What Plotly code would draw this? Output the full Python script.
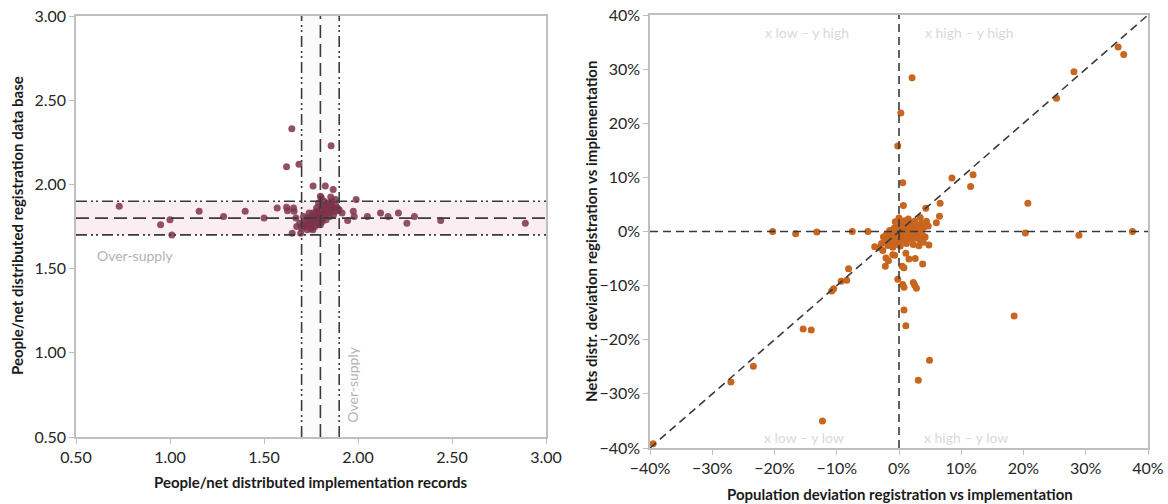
import plotly.graph_objects as go

# ---- Left panel: people per net, implementation records vs registration data base
impl_ratio = [
    0.73, 0.95, 1.00, 1.01, 1.155, 1.285, 1.40, 1.50, 1.57, 1.62, 1.625,
    1.648, 1.62, 1.686, 1.857, 1.761, 1.826, 1.868, 1.80, 1.805, 1.855, 1.88,
    1.99, 1.915, 1.945, 1.975, 1.98, 2.05, 2.12, 2.16, 2.215, 2.26, 2.30, 2.44, 2.89,
    1.65, 1.695, 1.674, 1.657, 1.66, 1.67,
    1.70, 1.71, 1.72, 1.72, 1.73, 1.73, 1.74, 1.74, 1.75, 1.75, 1.76, 1.76, 1.76,
    1.77, 1.77, 1.78, 1.78, 1.78, 1.79, 1.79, 1.80, 1.80, 1.80, 1.81, 1.81, 1.82,
    1.82, 1.82, 1.83, 1.83, 1.84, 1.84, 1.85, 1.85, 1.86, 1.86, 1.87, 1.88, 1.88,
    1.89, 1.75, 1.77, 1.79, 1.81, 1.83, 1.85, 1.87, 1.69, 1.71, 1.74, 1.78, 1.81,
    1.84, 1.80, 1.76, 1.73, 1.90, 1.86, 1.82, 1.79,
]
reg_ratio = [
    1.87, 1.76, 1.79, 1.70, 1.84, 1.81, 1.84, 1.80, 1.86, 1.865, 1.843,
    2.33, 2.105, 2.12, 2.23, 1.99, 1.99, 1.97, 1.93, 1.92, 1.925, 1.91,
    1.91, 1.83, 1.785, 1.84, 1.81, 1.81, 1.83, 1.81, 1.83, 1.77, 1.81, 1.785, 1.77,
    1.71, 1.71, 1.75, 1.86, 1.84, 1.80,
    1.74, 1.76, 1.75, 1.78, 1.77, 1.80, 1.76, 1.79, 1.78, 1.81, 1.77, 1.80, 1.83,
    1.79, 1.82, 1.78, 1.80, 1.84, 1.81, 1.83, 1.79, 1.82, 1.85, 1.80, 1.83, 1.81,
    1.84, 1.87, 1.82, 1.85, 1.83, 1.86, 1.84, 1.88, 1.85, 1.87, 1.86, 1.84, 1.88,
    1.86, 1.74, 1.75, 1.76, 1.78, 1.79, 1.81, 1.82, 1.77, 1.81, 1.83, 1.86, 1.88,
    1.89, 1.76, 1.73, 1.73, 1.85, 1.90, 1.90, 1.89,
]
target_ratio = 1.8
band_low, band_high = 1.7, 1.9

# ---- Right panel: deviations (%) registration vs implementation
pop_dev = [
    35.2, 36.1, 28.1, 25.3, 2.1, 0.3, -0.2, 0.6, 8.5, 11.9, 11.5, 20.7, 6.6, 6.5,
    6.0, 4.3, 0.7, 20.3, 28.9, 37.5, -20.3, -16.6, -13.2, -7.5, -5.0, 3.4, 4.7,
    -8.1, -8.4, -9.3, -10.5, -10.8, -15.4, -14.1, -23.4, -27.0, -12.3, -39.5,
    0.8, 1.1, 18.5, 4.9, 3.1, -0.2, 0.6, 0.8, 2.3, 2.5, 2.8, 0.5, 0.8, 1.6, 2.6,
    3.8, -2.1, -1.7, -2.2, 1.1, -1.0, -0.7, -3.9, 3.2, 4.8,
    -2.8, -2.5, -2.2, -2.0, -1.8, -1.6, -1.5, -1.3, -1.2, -1.0, -0.9, -0.8, -0.6,
    -0.5, -0.4, -0.3, -0.2, -0.1, 0.0, 0.1, 0.2, 0.3, 0.4, 0.5, 0.6, 0.7, 0.8,
    0.9, 1.0, 1.1, 1.2, 1.3, 1.4, 1.5, 1.6, 1.7, 1.8, 1.9, 2.0, 2.1, 2.2, 2.4,
    2.5, 2.6, 2.7, 2.8, 3.0, 3.1, 3.3, 3.5, 3.6, 3.8, 4.0, 4.2, 4.4, -3.2, -2.6,
    -1.0, 0.2, 1.2, 2.3, 3.9, -0.6, 0.0,
]
nets_dev = [
    34.1, 32.7, 29.5, 24.6, 28.4, 21.9, 15.8, 9.0, 9.9, 10.5, 8.3, 5.2, 5.2, 2.8,
    1.6, 4.3, 4.8, -0.3, -0.7, 0.0, 0.0, -0.4, -0.1, 0.0, 0.0, 2.6, 1.0,
    -6.9, -9.0, -9.2, -10.6, -11.0, -18.0, -18.2, -24.9, -27.8, -35.0, -39.2,
    -14.5, -17.4, -15.6, -23.8, -27.5, -8.8, -9.8, -10.3, -9.4, -9.9, -10.5, -6.4,
    -6.7, -5.1, -5.0, -6.0, -4.9, -5.4, -6.4, -4.0, -4.3, -4.4, -2.8, -2.65, -2.5,
    -2.2, -1.0, -1.8, -0.5, -2.6, -1.2, 0.2, -0.8, -2.0, -0.3, -1.5, 0.6, -0.9,
    -2.4, 0.3, -0.4, -1.3, 1.0, -0.2, -0.8, 0.4, -1.6, 1.5, 0.0, -0.5, 0.8, -1.1,
    2.0, 0.3, -0.3, 1.2, -0.8, 0.6, 2.3, -0.1, 1.0, -1.4, 0.2, 1.6, -0.6, 0.7,
    -0.2, 1.9, -1.2, 0.5, 1.2, -0.4, 0.9, -1.5, 0.3, 1.5, -0.7, 0.8, -1.0, 1.9,
    -3.0, -3.5, -2.9, -2.7, -2.2, -2.4, -2.0, 1.8, 2.5,
]
quadrant_labels = ["x low – y high", "x high – y high", "x low – y low", "x high – y low"]
quadrant_x = [-14.8, 11.2, -15.2, 10.8]
quadrant_y = [36.8, 36.8, -38.0, -38.0]

W, H = 1168, 504
FONT = "Lato, 'Open Sans', sans-serif"
AXIS_GREY = "#bfbfbf"
LINE_DARK = "#3a3a3a"


def px(x):
    return x / W


def py(y):
    return 1 - y / H


fig = go.Figure()

fig.add_trace(go.Scatter(
    x=impl_ratio, y=reg_ratio, mode="markers", xaxis="x", yaxis="y",
    marker=dict(size=7, color="#7e3249", opacity=0.85, line=dict(width=0)),
    showlegend=False, hoverinfo="x+y",
))
fig.add_trace(go.Scatter(
    x=pop_dev, y=nets_dev, mode="markers", xaxis="x2", yaxis="y2",
    marker=dict(size=7, color="#c8651e", line=dict(width=0)),
    showlegend=False, hoverinfo="x+y",
))

axis_common = dict(
    showgrid=False, zeroline=False, showline=True, linecolor=AXIS_GREY,
    linewidth=1.5, mirror=True, ticks="outside", ticklen=5, tickcolor=AXIS_GREY,
    tickwidth=1.2, tickfont=dict(family=FONT, size=16, color="#262626"),
    automargin=False,
)

fig.update_layout(
    width=W, height=H,
    margin=dict(l=0, r=0, t=0, b=0),
    paper_bgcolor="white", plot_bgcolor="white",
    font=dict(family=FONT),
    xaxis=dict(domain=[px(76), px(546)], range=[0.5, 3.0], dtick=0.5,
               tick0=0.5, tickformat=".2f", anchor="y", **axis_common),
    yaxis=dict(domain=[py(437), py(16)], range=[0.5, 3.0], dtick=0.5,
               tick0=0.5, tickformat=".2f", anchor="x", **axis_common),
    xaxis2=dict(domain=[px(650), px(1148)], range=[-40, 40], dtick=10,
                tick0=0, ticksuffix="%", anchor="y2", **axis_common),
    yaxis2=dict(domain=[py(448), py(15)], range=[-40, 40], dtick=10,
                tick0=0, ticksuffix="%", anchor="x2", **axis_common),
)

# Tolerance bands around the target ratio
fig.add_shape(type="rect", xref="x", yref="y", x0=0.5, x1=3.0,
              y0=band_low, y1=band_high, fillcolor="rgba(242,200,214,0.30)",
              line=dict(width=0), layer="below")
fig.add_shape(type="rect", xref="x", yref="y", x0=band_low, x1=band_high,
              y0=0.5, y1=3.0, fillcolor="rgba(230,220,224,0.10)",
              line=dict(width=0), layer="below")

dash_dot_dot = "11px,4px,2px,3px,2px,4px"
for v in (band_low, band_high):
    fig.add_shape(type="line", xref="x", yref="y", x0=0.5, x1=3.0, y0=v, y1=v,
                  line=dict(color=LINE_DARK, width=1.6, dash=dash_dot_dot))
    fig.add_shape(type="line", xref="x", yref="y", x0=v, x1=v, y0=0.5, y1=3.0,
                  line=dict(color=LINE_DARK, width=1.6, dash=dash_dot_dot))
fig.add_shape(type="line", xref="x", yref="y", x0=0.5, x1=3.0,
              y0=target_ratio, y1=target_ratio,
              line=dict(color=LINE_DARK, width=1.6, dash="13px,6px"))
fig.add_shape(type="line", xref="x", yref="y", x0=target_ratio, x1=target_ratio,
              y0=0.5, y1=3.0,
              line=dict(color=LINE_DARK, width=1.6, dash="13px,6px"))

# Reference lines on the deviation panel
for x0, y0, x1, y1 in ((-40, 0, 40, 0), (0, -40, 0, 40), (-40, -40, 40, 40)):
    fig.add_shape(type="line", xref="x2", yref="y2", x0=x0, y0=y0, x1=x1, y1=y1,
                  line=dict(color=LINE_DARK, width=1.6, dash="8px,5px"))

annotations = [
    dict(text="Over-supply", xref="x", yref="y", x=0.6, y=1.575,
         xanchor="left", yanchor="middle", showarrow=False,
         font=dict(family=FONT, size=14, color="#b3b3b3")),
    dict(text="Over-supply", xref="x", yref="y", x=1.973, y=0.81,
         xanchor="center", yanchor="middle", textangle=-90, showarrow=False,
         font=dict(family=FONT, size=14, color="#b3b3b3")),
    dict(text="<b>People/net distributed implementation records</b>",
         xref="paper", yref="paper", x=px(311), y=py(482), xanchor="center",
         yanchor="middle", showarrow=False,
         font=dict(family=FONT, size=15, color="#1a1a1a")),
    dict(text="<b>People/net distributed registration data base</b>",
         xref="paper", yref="paper", x=px(17), y=py(226), xanchor="center",
         yanchor="middle", textangle=-90, showarrow=False,
         font=dict(family=FONT, size=15, color="#1a1a1a")),
    dict(text="<b>Population deviation registration vs implementation</b>",
         xref="paper", yref="paper", x=px(900), y=py(494), xanchor="center",
         yanchor="middle", showarrow=False,
         font=dict(family=FONT, size=15, color="#1a1a1a")),
    dict(text="<b>Nets distr. deviation registration vs implementation</b>",
         xref="paper", yref="paper", x=px(591), y=py(232), xanchor="center",
         yanchor="middle", textangle=-90, showarrow=False,
         font=dict(family=FONT, size=15, color="#1a1a1a")),
]
for label, qx, qy in zip(quadrant_labels, quadrant_x, quadrant_y):
    annotations.append(dict(text=label, xref="x2", yref="y2", x=qx, y=qy,
                            xanchor="center", yanchor="middle", showarrow=False,
                            font=dict(family=FONT, size=14, color="#d9d9d9")))
fig.update_layout(annotations=annotations)

fig.write_html("out.html")
